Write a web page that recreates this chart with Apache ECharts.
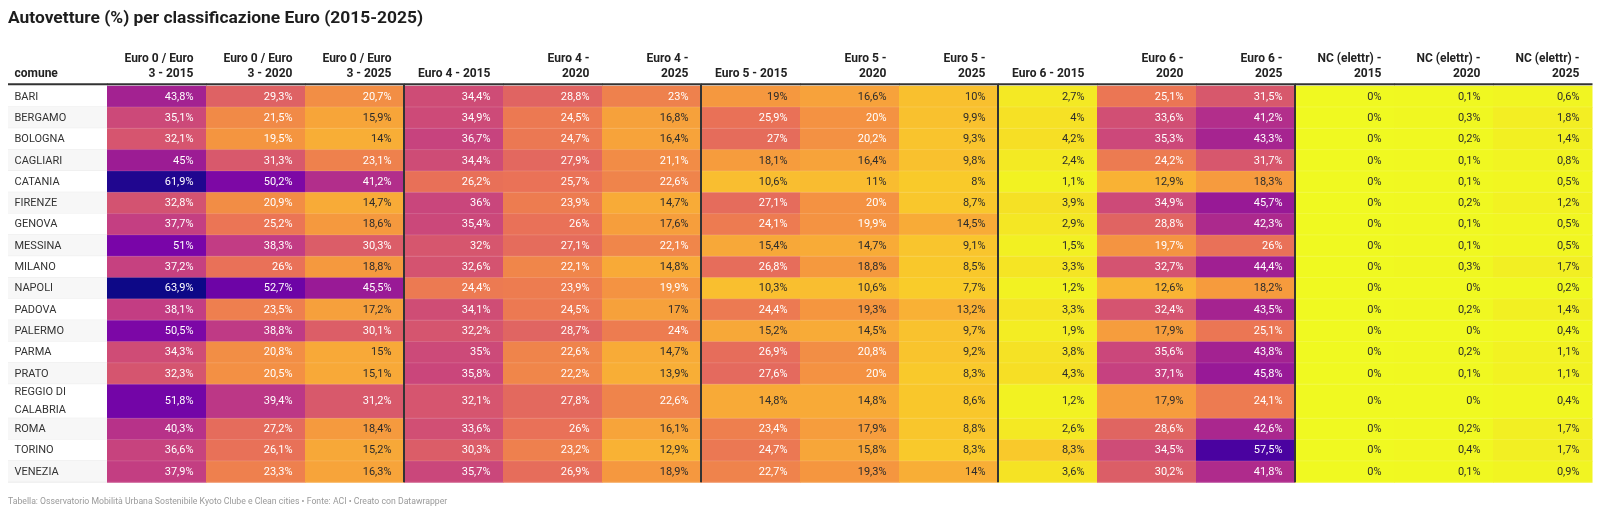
<!DOCTYPE html>
<html lang="it">
<head>
    <meta charset="UTF-8">
    <title>Autovetture per classificazione Euro</title>
    <script src="https://cdn.jsdelivr.net/npm/echarts@6.0.0/dist/echarts.min.js"></script>
    <style>
        html, body { margin: 0; padding: 0; background: #fff; }
        #chart { width: 1600px; height: 516px; }
    </style>
</head>
<body>
<div id="chart"></div>
<script>
    // dati
    var comuni = ['BARI', 'BERGAMO', 'BOLOGNA', 'CAGLIARI', 'CATANIA', 'FIRENZE', 'GENOVA', 'MESSINA', 'MILANO',
        'NAPOLI', 'PADOVA', 'PALERMO', 'PARMA', 'PRATO', 'REGGIO DI CALABRIA', 'ROMA', 'TORINO', 'VENEZIA']

    var colonne = ['Euro 0 / Euro\n3 - 2015', 'Euro 0 / Euro\n3 - 2020', 'Euro 0 / Euro\n3 - 2025',
        'Euro 4 - 2015', 'Euro 4 -\n2020', 'Euro 4 -\n2025',
        'Euro 5 - 2015', 'Euro 5 -\n2020', 'Euro 5 -\n2025',
        'Euro 6 - 2015', 'Euro 6 -\n2020', 'Euro 6 -\n2025',
        'NC (elettr) -\n2015', 'NC (elettr) -\n2020', 'NC (elettr) -\n2025']

    var euro03_2015 = [43.8, 35.1, 32.1, 45, 61.9, 32.8, 37.7, 51, 37.2, 63.9, 38.1, 50.5, 34.3, 32.3, 51.8, 40.3, 36.6, 37.9]
    var euro03_2020 = [29.3, 21.5, 19.5, 31.3, 50.2, 20.9, 25.2, 38.3, 26, 52.7, 23.5, 38.8, 20.8, 20.5, 39.4, 27.2, 26.1, 23.3]
    var euro03_2025 = [20.7, 15.9, 14, 23.1, 41.2, 14.7, 18.6, 30.3, 18.8, 45.5, 17.2, 30.1, 15, 15.1, 31.2, 18.4, 15.2, 16.3]
    var euro4_2015 = [34.4, 34.9, 36.7, 34.4, 26.2, 36, 35.4, 32, 32.6, 24.4, 34.1, 32.2, 35, 35.8, 32.1, 33.6, 30.3, 35.7]
    var euro4_2020 = [28.8, 24.5, 24.7, 27.9, 25.7, 23.9, 26, 27.1, 22.1, 23.9, 24.5, 28.7, 22.6, 22.2, 27.8, 26, 23.2, 26.9]
    var euro4_2025 = [23, 16.8, 16.4, 21.1, 22.6, 14.7, 17.6, 22.1, 14.8, 19.9, 17, 24, 14.7, 13.9, 22.6, 16.1, 12.9, 18.9]
    var euro5_2015 = [19, 25.9, 27, 18.1, 10.6, 27.1, 24.1, 15.4, 26.8, 10.3, 24.4, 15.2, 26.9, 27.6, 14.8, 23.4, 24.7, 22.7]
    var euro5_2020 = [16.6, 20, 20.2, 16.4, 11, 20, 19.9, 14.7, 18.8, 10.6, 19.3, 14.5, 20.8, 20, 14.8, 17.9, 15.8, 19.3]
    var euro5_2025 = [10, 9.9, 9.3, 9.8, 8, 8.7, 14.5, 9.1, 8.5, 7.7, 13.2, 9.7, 9.2, 8.3, 8.6, 8.8, 8.3, 14]
    var euro6_2015 = [2.7, 4, 4.2, 2.4, 1.1, 3.9, 2.9, 1.5, 3.3, 1.2, 3.3, 1.9, 3.8, 4.3, 1.2, 2.6, 8.3, 3.6]
    var euro6_2020 = [25.1, 33.6, 35.3, 24.2, 12.9, 34.9, 28.8, 19.7, 32.7, 12.6, 32.4, 17.9, 35.6, 37.1, 17.9, 28.6, 34.5, 30.2]
    var euro6_2025 = [31.5, 41.2, 43.3, 31.7, 18.3, 45.7, 42.3, 26, 44.4, 18.2, 43.5, 25.1, 43.8, 45.8, 24.1, 42.6, 57.5, 41.8]
    var nc_2015 = [0, 0, 0, 0, 0, 0, 0, 0, 0, 0, 0, 0, 0, 0, 0, 0, 0, 0]
    var nc_2020 = [0.1, 0.3, 0.2, 0.1, 0.1, 0.2, 0.1, 0.1, 0.3, 0, 0.2, 0, 0.2, 0.1, 0, 0.2, 0.4, 0.1]
    var nc_2025 = [0.6, 1.8, 1.4, 0.8, 0.5, 1.2, 0.5, 0.5, 1.7, 0.2, 1.4, 0.4, 1.1, 1.1, 0.4, 1.7, 1.7, 0.9]

    var serie = [euro03_2015, euro03_2020, euro03_2025, euro4_2015, euro4_2020, euro4_2025,
        euro5_2015, euro5_2020, euro5_2025, euro6_2015, euro6_2020, euro6_2025, nc_2015, nc_2020, nc_2025]

    // scala tipo plasma (dal giallo al blu), tarata a occhio sul riferimento
    var palette = ['#f0f921', '#f9d227', '#f9b334', '#f5973f', '#ea7356', '#d6566e',
        '#c23c84', '#9e1d93', '#7805a8', '#4a02a0', '#0d0887']

    var FONT = 'Roboto, "Noto Sans", sans-serif'
    var LABEL_W = 84
    var HEADER_UNITS = 2

    // altezza righe: le etichette troppo lunghe vanno su due righe
    var ctx = document.createElement('canvas').getContext('2d')
    ctx.font = '11px Roboto'
    var rowWeight = comuni.map(function (n) {
        return ctx.measureText(n).width > LABEL_W ? 1.6 : 1
    })
    var rowStart = []
    var acc = 0
    rowWeight.forEach(function (w) {
        rowStart.push(acc)
        acc += w
    })
    var totalUnits = acc

    var cellData = []
    serie.forEach(function (arr, c) {
        arr.forEach(function (v, r) {
            cellData.push([c + 1, r, v])
        })
    })

    function fmt(v) {
        return String(v).replace('.', ',') + '%'
    }

    function rowBox(api, col, row) {
        var w = api.size([1, 0])[0]
        var top = api.coord([col, rowStart[row]])
        var bottom = api.coord([col, rowStart[row] + rowWeight[row]])
        return {x: top[0] - w / 2, y: top[1], w: w, h: bottom[1] - top[1]}
    }

    function renderCell(params, api) {
        var col = api.value(0)
        var row = api.value(1)
        var v = api.value(2)
        var b = rowBox(api, col, row)
        var children = [{
            type: 'rect',
            shape: {x: b.x, y: b.y, width: b.w + 0.5, height: b.h + 0.5},
            style: {fill: api.visual('color')}
        }, {
            type: 'line',
            shape: {x1: b.x, y1: b.y + b.h, x2: b.x + b.w, y2: b.y + b.h},
            style: {stroke: 'rgba(255,255,255,0.14)', lineWidth: 1},
            z2: 5
        }, {
            type: 'text',
            style: {
                x: b.x + b.w - 12.5, y: b.y + b.h / 2 + 0.5,
                text: fmt(v), align: 'right', verticalAlign: 'middle',
                font: '11px ' + FONT,
                fill: v >= 19.4 ? '#ffffff' : '#2b2b2b'
            },
            z2: 10
        }]
        if (col > 1 && (col - 1) % 3 === 0) {
            children.push({
                type: 'line',
                shape: {x1: b.x, y1: b.y - 1, x2: b.x, y2: b.y + b.h},
                style: {stroke: '#333', lineWidth: 2},
                z2: 20
            })
        }
        return {type: 'group', children: children}
    }

    function renderLabel(params, api) {
        var row = params.dataIndex
        var b = rowBox(api, 0, row)
        return {
            type: 'group',
            children: [{
                type: 'rect',
                shape: {x: b.x, y: b.y, width: b.w, height: b.h},
                style: {fill: row % 2 ? '#f7f7f7' : '#ffffff'}
            }, {
                type: 'line',
                shape: {x1: b.x, y1: b.y + b.h, x2: b.x + b.w, y2: b.y + b.h},
                style: {stroke: '#ebebeb', lineWidth: 1}
            }, {
                type: 'text',
                style: {
                    x: b.x + 6.5, y: b.y + b.h / 2 + 0.5,
                    text: comuni[row], width: LABEL_W, overflow: 'break',
                    align: 'left', verticalAlign: 'middle', lineHeight: 18,
                    font: '11px ' + FONT, fill: '#333'
                }
            }]
        }
    }

    function renderHeader(params, api) {
        var col = params.dataIndex
        var w = api.size([1, 0])[0]
        var bottom = api.coord([col, 0])
        var x0 = bottom[0] - w / 2
        var text = col === 0 ? 'comune' : colonne[col - 1]
        return {
            type: 'group',
            children: [{
                type: 'text',
                style: {
                    x: col === 0 ? x0 + 6.5 : x0 + w - 12.5, y: bottom[1] - 3.6,
                    text: text, align: col === 0 ? 'left' : 'right', verticalAlign: 'bottom',
                    lineHeight: 15.3, font: 'bold 12px ' + FONT, fill: '#222'
                }
            }, {
                type: 'line',
                shape: {x1: x0, y1: bottom[1] - 1.3, x2: x0 + w + 0.5, y2: bottom[1] - 1.3},
                style: {stroke: '#333', lineWidth: 2},
                z2: 30
            }]
        }
    }

    var chart = echarts.init(document.getElementById('chart'))
    var xCats = ['comune'].concat(colonne)

    chart.setOption({
        animation: false,
        backgroundColor: '#fff',
        title: [{
            text: 'Autovetture (%) per classificazione Euro (2015-2025)',
            left: 8, top: 10, padding: 0,
            textStyle: {fontFamily: FONT, fontSize: 17.4, fontWeight: 'bold', color: '#1d1d1d'}
        }, {
            text: 'Tabella: Osservatorio Mobilità Urbana Sostenibile Kyoto Clube e Clean cities • Fonte: ACI • Creato con Datawrapper',
            left: 8, top: 497, padding: 0,
            textStyle: {fontFamily: FONT, fontSize: 8.7, fontWeight: 'normal', color: '#9a9a9a'}
        }],
        grid: {left: 8, right: 8, top: 43, bottom: 33.8},
        xAxis: {
            type: 'category', data: xCats, boundaryGap: true,
            axisLine: {show: false}, axisTick: {show: false}, axisLabel: {show: false}, splitLine: {show: false}
        },
        yAxis: {
            type: 'value', min: -HEADER_UNITS, max: totalUnits, inverse: true,
            axisLine: {show: false}, axisTick: {show: false}, axisLabel: {show: false}, splitLine: {show: false}
        },
        visualMap: {
            type: 'continuous', show: false, seriesIndex: 0, dimension: 2,
            min: 0, max: 63.9, inRange: {color: palette}
        },
        series: [{
            type: 'custom', renderItem: renderCell, data: cellData, clip: false,
            encode: {x: 0, y: 1}
        }, {
            type: 'custom', renderItem: renderLabel, clip: false,
            data: comuni.map(function (n, i) { return [0, i] })
        }, {
            type: 'custom', renderItem: renderHeader, clip: false, z: 5,
            data: xCats.map(function (n, i) { return [i, -1] })
        }]
    })
</script>
</body>
</html>
